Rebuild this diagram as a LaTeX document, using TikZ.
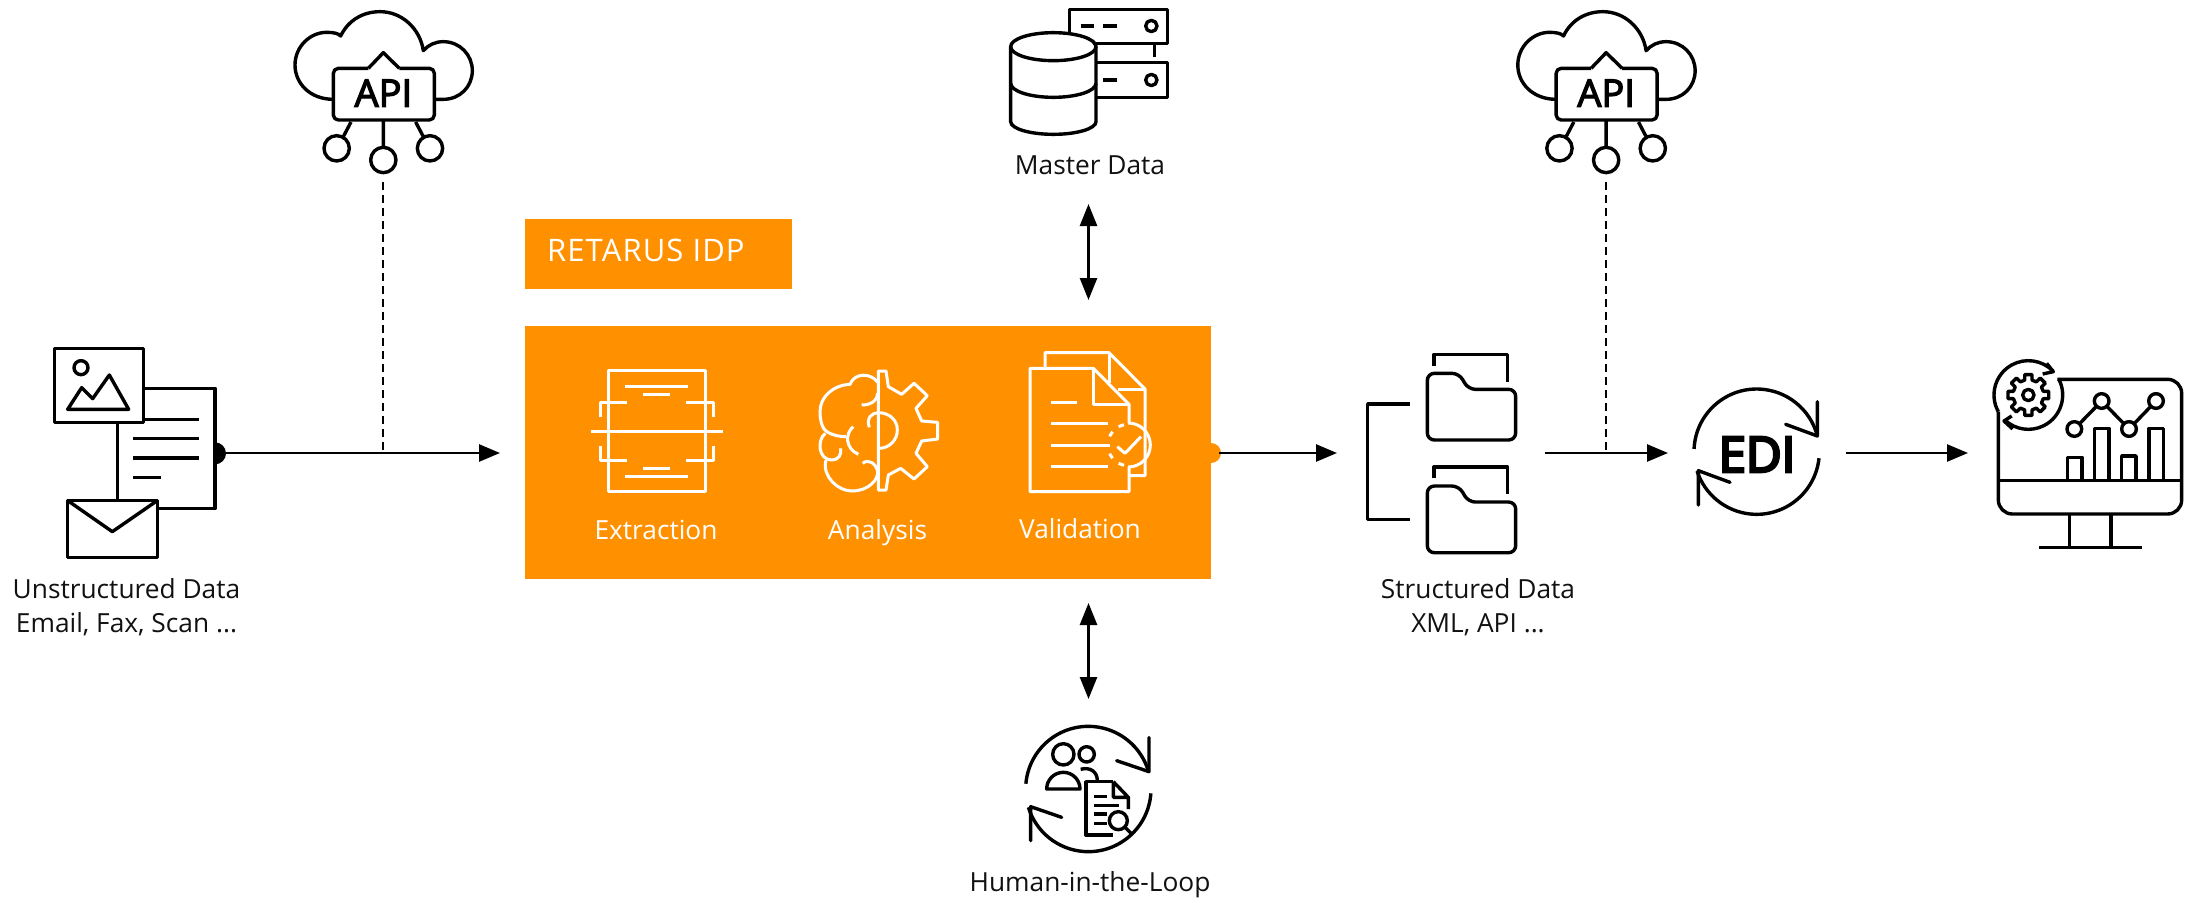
\documentclass[tikz,border=0pt]{standalone}
\usepackage{fontspec}
\setmainfont{Open Sans}
\newfontfamily\semifont[FakeBold=3.2]{Open Sans}
\newfontfamily\heavyfont[FakeBold=5.5]{Open Sans}
\usetikzlibrary{arrows.meta}
\definecolor{idporange}{HTML}{FF9100}
\definecolor{ink}{HTML}{111111}
\tikzset{
  ico/.style={draw=black,line width=3.4pt,line join=round,line cap=butt,fill=none},
  wico/.style={draw=white,line width=3pt,line join=round,line cap=butt,fill=none},
  lab/.style={font=\fontsize{26.3}{33.5}\selectfont,text=ink,inner sep=0pt},
  wlab/.style={font=\fontsize{26.3}{33.5}\selectfont,text=white,inner sep=0pt},
  flow/.style={draw=black,line width=2.6pt,-{Triangle[length=21pt,width=17pt]}},
  both/.style={draw=black,line width=2.6pt,{Triangle[length=22pt,width=17pt]}-{Triangle[length=22pt,width=17pt]}},
  dash line/.style={draw=black,line width=2.3pt,dash pattern=on 8pt off 5pt},
  panel/.style={fill=idporange,draw=none,inner sep=0pt}
}
\newcommand{\apiicon}[3]{%
\begin{scope}[shift={(#1,0)},scale=1/3]
  \draw[ico] (190,298) .. controls (120,298) and (75,250) .. (75,195) .. controls (75,140) and (120,97) .. (170,97) .. controls (190,97) and (205,100) .. (212,108) .. controls (235,60) and (280,35) .. (330,35) .. controls (395,35) and (450,85) .. (460,152) .. controls (475,135) and (495,125) .. (520,125) .. controls (570,125) and (607,165) .. (607,212) .. controls (607,260) and (570,298) .. (520,298) -- (495,298);
  \draw[ico,rounded corners=5pt] (295,205) -- (190,205) -- (190,360) -- (493,360) -- (493,205) -- (388,205);
  \draw[ico] (295,205) -- (340,158) -- (388,205);
  \node[font=\semifont\fontsize{38}{38}\selectfont,anchor=base,inner sep=0pt] (#2) at (340,320) {API};
  \draw[ico] (340,362) -- (340,442) (340,480) circle[radius=38];
  \draw[ico] (243,366) -- (220,410) (200,445) circle[radius=38];
  \draw[ico] (437,366) -- (460,410) (480,445) circle[radius=38];
  \coordinate (#3) at (340,546);
\end{scope}}
\newcommand{\foldericon}[1]{%
\begin{scope}[shift={(1340,#1)},scale=1/3]
  \draw[ico] (282,77) -- (282,43) -- (503,43) -- (503,125);
  \draw[ico,rounded corners=7pt] (262,150) -- (262,100) -- (357,100) -- (385,148) -- (527,148) -- (527,300) -- (262,300) -- cycle;
\end{scope}}
\begin{document}
\begin{tikzpicture}[x=1pt,y=-1pt]
\useasboundingbox (0,0) rectangle (2188,899);
\fill[white] (0,0) rectangle (2188,899);

% panels
\node[panel,minimum width=267pt,minimum height=70pt] (idp) at (658.5,254) {};
\node[anchor=base west,font=\addfontfeature{LetterSpace=3.5}\fontsize{31}{31}\selectfont,text=white,inner sep=0pt] (idptext) at (547,261) {RETARUS IDP};
\node[panel,minimum width=686pt,minimum height=253pt] (core) at (868,452.5) {};
\fill[idporange] (1211,443) arc[start angle=-90,end angle=90,radius=10] -- cycle;

% unstructured data icon
\begin{scope}[shift={(0,320)},scale=1/3]
  \draw[ico] (163,85) rectangle (430,308);
  \draw[ico] (243,143) circle[radius=21];
  \draw[ico] (203,268) -- (245,203) -- (278,236) -- (328,165) -- (386,268) -- cycle;
  \draw[ico] (430,205) -- (645,205) -- (645,566) -- (475,566);
  \draw[ico] (352,308) -- (352,541);
  \draw[ico] (430,298) -- (597,298) (400,356) -- (597,356) (400,414) -- (597,414) (400,472) -- (483,472);
  \draw[ico] (202,541) rectangle (473,713);
  \draw[ico] (202,541) -- (337,635) -- (473,541);
  \fill[black] (645,367) arc[start angle=-90,end angle=90,radius=33] -- cycle;
\end{scope}
\coordinate (srcout) at (222,453);
\node[lab,align=center] (srclab) at (126.5,607) {Unstructured Data\\Email, Fax, Scan ...};

% API icons
\apiicon{270}{apia}{apiaout}
\apiicon{1492.8}{apib}{apibout}

% extraction
\begin{scope}[shift={(570,340)},scale=1/3]
  \draw[wico] (115,92) rectangle (405,455);
  \draw[wico] (165,138) -- (355,138) (220,163) -- (300,163) (62,273) -- (458,273) (220,385) -- (300,385) (165,408) -- (355,408);
  \draw[wico] (92,232) -- (92,186) -- (172,186) (430,232) -- (430,186) -- (347,186);
  \draw[wico] (92,317) -- (92,362) -- (172,362) (430,317) -- (430,362) -- (347,362);
\end{scope}
\node[wlab,anchor=base] (extr) at (656,539) {Extraction};

% analysis
\begin{scope}[shift={(810,365)},scale=1/3]
  \draw[wico] (205,18) -- (228,18) -- (235,65) -- (275,88) -- (312,55) -- (352,92) -- (318,130) -- (335,168) -- (383,172) -- (383,222) -- (335,228) -- (318,265) -- (352,305) -- (312,342) -- (272,310) -- (235,330) -- (228,375) -- (205,375) -- cycle;
  \draw[wico] (178,187) .. controls (168,160) and (185,143) .. (205,143) .. controls (238,143) and (262,165) .. (262,195) .. controls (262,225) and (238,250) .. (207,250);
  \draw[wico] (203,52) .. controls (185,25) and (135,20) .. (120,58) .. controls (70,60) and (30,95) .. (30,140) .. controls (30,165) and (35,180) .. (42,192) .. controls (55,208) and (85,215) .. (108,215);
  \draw[wico] (155,120) .. controls (185,120) and (203,105) .. (203,85);
  \draw[wico] (130,185) .. controls (105,205) and (105,250) .. (145,268);
  \draw[wico] (46,205) .. controls (20,225) and (25,285) .. (65,285) .. controls (85,285) and (95,270) .. (92,250);
  \draw[wico] (48,285) .. controls (35,335) and (85,378) .. (125,378) .. controls (175,378) and (205,345) .. (203,320) .. controls (198,295) and (175,280) .. (158,295);
\end{scope}
\node[wlab,anchor=base] (anal) at (877.5,539) {Analysis};

% validation
\begin{scope}[shift={(880,330)},scale=1/3]
  \draw[wico] (495,115) -- (495,68) -- (687,68) -- (795,177) -- (795,437) -- (750,437);
  \draw[wico] (687,68) -- (687,160) (715,177) -- (795,177);
  \draw[wico] (747,280) -- (747,223) -- (640,115) -- (450,115) -- (450,485) -- (747,485) -- (747,410);
  \draw[wico] (640,115) -- (640,223) -- (747,223);
  \draw[wico] (513,217) -- (590,217) (513,281) -- (683,281) (513,345) -- (690,345) (513,408) -- (683,408);
  \draw[wico] (745,345)++(-90:66) arc[start angle=-90,end angle=90,radius=66];
  \draw[wico] (745,345)++(-118:62) arc[start angle=-118,end angle=-102,radius=62];
  \draw[wico] (745,345)++(-155:62) arc[start angle=-155,end angle=-140,radius=62];
  \draw[wico] (745,345)++(140:62) arc[start angle=140,end angle=155,radius=62];
  \draw[wico] (745,345)++(102:62) arc[start angle=102,end angle=118,radius=62];
  \draw[wico] (712,350) -- (735,370) -- (783,320);
\end{scope}
\node[wlab,anchor=base] (valid) at (1080,538) {Validation};

% master data
\begin{scope}[shift={(990,0)},scale=1/3]
  \draw[ico] (238,100) -- (238,28) -- (533,28) -- (533,130) -- (310,130);
  \draw[ico] (320,188) -- (533,188) -- (533,292) -- (320,292);
  \draw[ico] (493,130) -- (493,170);
  \draw[ico] (272,78) -- (312,78) (340,78) -- (380,78) (340,240) -- (380,240);
  \draw[ico] (484,78) circle[radius=17] (484,240) circle[radius=17];
  \draw[ico] (190,140) ellipse[x radius=128,y radius=42];
  \draw[ico] (62,140) -- (62,365) arc[start angle=180,end angle=0,x radius=128,y radius=38] -- (318,140);
  \draw[ico] (62,250) arc[start angle=180,end angle=0,x radius=128,y radius=42];
\end{scope}
\node[lab,anchor=base] (mdlab) at (1090,174) {Master Data};

% human in the loop
\begin{scope}[shift={(960,710)},scale=1/3]
  \draw[ico] (385,237)++(184.8:188) arc[start angle=184.8,end angle=344,radius=188];
  \draw[ico] (385,237)++(4:188) arc[start angle=4,end angle=163,radius=188];
  \draw[ico,line cap=round] (567,83) -- (567,185) -- (470,152);
  \draw[ico,line cap=round] (212,392) -- (212,290) -- (305,322);
  \draw[ico] (310,133) circle[radius=32] (380,133) circle[radius=23];
  \draw[ico] (260,237) arc[start angle=180,end angle=360,radius=50] -- cycle;
  \draw[ico] (362,178) .. controls (390,170) and (412,185) .. (412,212);
  \draw[ico] (460,215) -- (378,215) -- (378,375) -- (460,375);
  \draw[ico] (460,215) -- (505,262) -- (505,297) (460,215) -- (460,262) -- (505,262);
  \draw[ico] (403,260) -- (440,260) (403,287) -- (478,287) (403,312) -- (440,312) (403,340) -- (440,340);
  \draw[ico] (475,332) circle[radius=27] (495,352) -- (515,372);
\end{scope}
\node[lab,anchor=base] (hlab) at (1090,891) {Human-in-the-Loop};

% structured data
\begin{scope}[shift={(1340,340)},scale=1/3]
  \draw[ico] (210,192) -- (83,192) -- (83,538) -- (210,538);
\end{scope}
\foldericon{340}
\foldericon{452.7}
\node[lab,align=center] (stlab) at (1478,607) {Structured Data\\XML, API ...};

% EDI
\begin{scope}[shift={(1660,370)},scale=1/3]
  \draw[ico] (290,245)++(182.5:188) arc[start angle=182.5,end angle=345.5,radius=188];
  \draw[ico] (290,245)++(6:188) arc[start angle=6,end angle=162,radius=188];
  \draw[ico,line cap=round] (472,95) -- (472,198) -- (377,163);
  \draw[ico,line cap=round] (115,405) -- (115,302) -- (210,337);
\end{scope}
\node[font=\heavyfont\fontsize{49}{49}\selectfont,anchor=base,inner sep=0pt] (edi) at (1757,472) {EDI};

% monitor
\begin{scope}[shift={(1970,340)},scale=1/3]
  \draw[ico,rounded corners=14pt] (262,118) -- (635,118) -- (635,522) -- (85,522) -- (85,215);
  \draw[ico] (85,422) -- (635,422);
  \draw[ico] (298,522) -- (298,622) (423,522) -- (423,622) (207,622) -- (515,622);
  \draw[ico] (313,267) -- (395,183) -- (477,267) -- (558,183);
  \foreach \p in {(313,267),(395,183),(477,267),(558,183)} \filldraw[ico,fill=white] \p circle[radius=22];
  \draw[ico] (293,422) -- (293,352) -- (336,352) -- (336,422);
  \draw[ico] (373,422) -- (373,265) -- (417,265) -- (417,422);
  \draw[ico] (455,422) -- (455,348) -- (498,348) -- (498,422);
  \draw[ico] (537,422) -- (537,265) -- (580,265) -- (580,422);
  \draw[ico] (175,165)++(151:103) arc[start angle=151,end angle=316,radius=103];
  \draw[ico] (175,165)++(-27:103) arc[start angle=-27,end angle=133,radius=103];
  \draw[ico] (230,70) -- (250,95) -- (218,102);
  \draw[ico] (125,228) -- (102,243) -- (128,267);
  \begin{scope}[shift={(175,165)}]
    \draw[ico] (-10:62) \foreach \a in {0,45,...,315}{ -- ({\a-10}:62) -- ({\a+10}:62) -- ({\a+14}:46) -- ({\a+31}:46) } -- cycle;
    \draw[ico] (0,0) circle[radius=17];
  \end{scope}
\end{scope}

% connector anchors
\coordinate (toCore) at (500,453);
\coordinate (junctA) at (apiaout |- toCore);
\coordinate (coreOut) at (1219,453);
\coordinate (toStruct) at (1337,453);
\coordinate (stOut) at (1545,453);
\coordinate (toEdi) at (1668,453);
\coordinate (junctB) at (apibout |- toEdi);
\coordinate (ediOut) at (1846,453);
\coordinate (toMon) at (1968,453);
\coordinate (mdS) at (1088.5,204);
\coordinate (coreN) at (1088.5,300);
\coordinate (coreS) at (1088.5,603);
\coordinate (hlN) at (1088.5,699);

% connectors
\draw[flow] (srcout) -- (toCore);
\draw[dash line] (apiaout) -- (junctA);
\draw[flow] (coreOut) -- (toStruct);
\draw[flow] (stOut) -- (toEdi);
\draw[dash line] (apibout) -- (junctB);
\draw[flow] (ediOut) -- (toMon);
\draw[both] (mdS) -- (coreN);
\draw[both] (coreS) -- (hlN);
\end{tikzpicture}
\end{document}
